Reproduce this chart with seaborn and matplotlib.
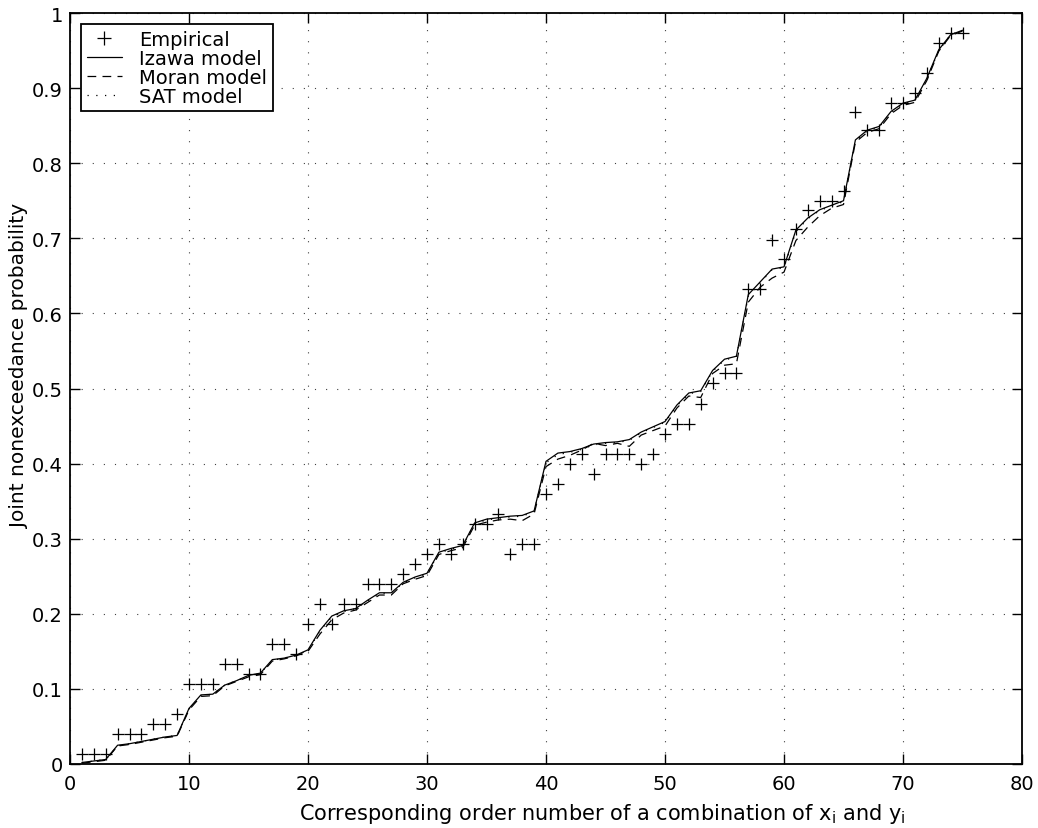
import numpy as np
import pandas as pd
import matplotlib
matplotlib.use("Agg")
import matplotlib.pyplot as plt
from matplotlib.lines import Line2D
import seaborn as sns

# Order number of each (x_i, y_i) combination
order_no = list(range(1, 76))

empirical = [
    0.0133, 0.0133, 0.0133, 0.0400, 0.0400, 0.0400, 0.0533, 0.0533, 0.0667, 0.1067,
    0.1067, 0.1067, 0.1333, 0.1333, 0.1200, 0.1200, 0.1600, 0.1600, 0.1467, 0.1867,
    0.2133, 0.1867, 0.2133, 0.2133, 0.2400, 0.2400, 0.2400, 0.2533, 0.2667, 0.2800,
    0.2933, 0.2800, 0.2933, 0.3200, 0.3200, 0.3333, 0.2800, 0.2933, 0.2933, 0.3600,
    0.3733, 0.4000, 0.4133, 0.3867, 0.4133, 0.4133, 0.4133, 0.4000, 0.4133, 0.4400,
    0.4533, 0.4533, 0.4800, 0.5067, 0.5200, 0.5200, 0.6320, 0.6320, 0.6973, 0.6720,
    0.7120, 0.7380, 0.7500, 0.7500, 0.7633, 0.8680, 0.8440, 0.8440, 0.8800, 0.8800,
    0.8933, 0.9200, 0.9600, 0.9733, 0.9733,
]

izawa = [
    0.002, 0.004, 0.006, 0.025, 0.027, 0.030, 0.033, 0.036, 0.038, 0.074,
    0.092, 0.093, 0.105, 0.111, 0.118, 0.121, 0.139, 0.141, 0.145, 0.152,
    0.178, 0.197, 0.204, 0.207, 0.218, 0.228, 0.228, 0.242, 0.249, 0.254,
    0.282, 0.287, 0.291, 0.321, 0.326, 0.328, 0.330, 0.331, 0.337, 0.403,
    0.414, 0.416, 0.420, 0.426, 0.428, 0.429, 0.432, 0.442, 0.449, 0.456,
    0.478, 0.494, 0.497, 0.524, 0.539, 0.543, 0.625, 0.642, 0.659, 0.662,
    0.711, 0.727, 0.738, 0.744, 0.750, 0.831, 0.844, 0.849, 0.869, 0.880,
    0.884, 0.913, 0.951, 0.971, 0.977,
]

moran = [
    0.001, 0.003, 0.005, 0.024, 0.026, 0.029, 0.032, 0.035, 0.037, 0.072,
    0.090, 0.091, 0.104, 0.110, 0.116, 0.119, 0.137, 0.140, 0.144, 0.150,
    0.173, 0.192, 0.201, 0.205, 0.215, 0.225, 0.225, 0.240, 0.246, 0.251,
    0.279, 0.284, 0.288, 0.318, 0.322, 0.325, 0.326, 0.324, 0.333, 0.396,
    0.406, 0.411, 0.418, 0.427, 0.424, 0.427, 0.423, 0.438, 0.444, 0.450,
    0.474, 0.490, 0.488, 0.520, 0.531, 0.533, 0.615, 0.635, 0.647, 0.655,
    0.697, 0.715, 0.730, 0.740, 0.745, 0.828, 0.841, 0.846, 0.866, 0.877,
    0.881, 0.910, 0.949, 0.970, 0.976,
]

sat = [
    0.002, 0.004, 0.006, 0.024, 0.027, 0.030, 0.033, 0.036, 0.038, 0.073,
    0.091, 0.093, 0.105, 0.111, 0.117, 0.121, 0.138, 0.141, 0.145, 0.151,
    0.177, 0.196, 0.203, 0.207, 0.217, 0.227, 0.228, 0.241, 0.248, 0.253,
    0.281, 0.286, 0.290, 0.320, 0.325, 0.327, 0.329, 0.330, 0.336, 0.401,
    0.412, 0.415, 0.419, 0.425, 0.427, 0.428, 0.431, 0.441, 0.448, 0.455,
    0.477, 0.493, 0.496, 0.523, 0.538, 0.542, 0.623, 0.641, 0.658, 0.661,
    0.709, 0.726, 0.737, 0.743, 0.749, 0.830, 0.843, 0.848, 0.868, 0.879,
    0.883, 0.912, 0.950, 0.971, 0.977,
]

df = pd.DataFrame({
    "order": order_no,
    "Empirical": empirical,
    "Izawa model": izawa,
    "Moran model": moran,
    "SAT model": sat,
})

DASHED = (0, (7, 5))
DOTTED = (0, (1, 6))
FS = 14

sns.set_theme(style="ticks")
plt.rcParams["font.family"] = ["DejaVu Sans"]
plt.rcParams["mathtext.fontset"] = "dejavusans"
plt.rcParams["text.color"] = "black"
plt.rcParams["axes.labelcolor"] = "black"

fig = plt.figure(figsize=(10.38, 8.29), dpi=100)
ax = fig.add_axes([70 / 1038, 1 - 765 / 829, (1022 - 70) / 1038, (765 - 14) / 829])

# Model curves
sns.lineplot(data=df, x="order", y="Izawa model", ax=ax, color="black",
             linewidth=0.9, sort=False)
sns.lineplot(data=df, x="order", y="Moran model", ax=ax, color="black",
             linewidth=0.9, sort=False)
ax.lines[-1].set_linestyle(DASHED)
sns.lineplot(data=df, x="order", y="SAT model", ax=ax, color="black",
             linewidth=0.9, sort=False)
ax.lines[-1].set_linestyle(DOTTED)

# Empirical points
sns.scatterplot(data=df, x="order", y="Empirical", ax=ax, marker="+",
                s=85, color="black", linewidth=0.9, zorder=5)

ax.set_xlim(0, 80)
ax.set_ylim(0, 1)
ax.set_xticks(np.arange(0, 81, 10))
ax.set_yticks(np.arange(0, 1.01, 0.1))
ax.set_xticklabels([str(v) for v in range(0, 81, 10)])
ax.set_yticklabels(["0"] + [f"{v:.1f}" for v in np.arange(0.1, 0.95, 0.1)] + ["1"])

ax.grid(True, linestyle=(0, (1, 9)), linewidth=0.8, color="0.25")
ax.set_axisbelow(True)
ax.tick_params(axis="both", which="major", direction="in", length=7, width=1.0,
               top=True, right=True, labelsize=FS, colors="black")
ax.tick_params(axis="x", pad=7)
ax.tick_params(axis="y", pad=5)
for sp in ax.spines.values():
    sp.set_visible(True)
    sp.set_color("black")
    sp.set_linewidth(1.3)

ax.set_xlabel(r"Corresponding order number of a combination of x$_{\mathrm{i}}$ and y$_{\mathrm{i}}$",
              fontsize=15, color="black")
ax.xaxis.set_label_coords(0.559, -0.049)
ax.set_ylabel("Joint nonexceedance probability", fontsize=14.5, color="black")
ax.yaxis.set_label_coords(-0.043, 0.531)

handles = [
    Line2D([], [], color="black", marker="+", markersize=9.5, linestyle="none", markeredgewidth=0.9),
    Line2D([], [], color="black", linewidth=0.9, linestyle="-"),
    Line2D([], [], color="black", linewidth=0.9, linestyle=DASHED),
    Line2D([], [], color="black", linewidth=0.9, linestyle=DOTTED),
]
labels = ["Empirical", "Izawa model", "Moran model", "SAT model"]
leg = ax.legend(handles, labels, loc="upper left", fontsize=FS, frameon=True,
                fancybox=False, framealpha=1, edgecolor="black",
                borderaxespad=0.55, handlelength=1.8, handletextpad=0.9,
                labelspacing=0.0, borderpad=0.3)
leg.get_frame().set_linewidth(1.3)
for t in leg.get_texts():
    t.set_color("black")

fig.savefig("out.png", dpi=100)
